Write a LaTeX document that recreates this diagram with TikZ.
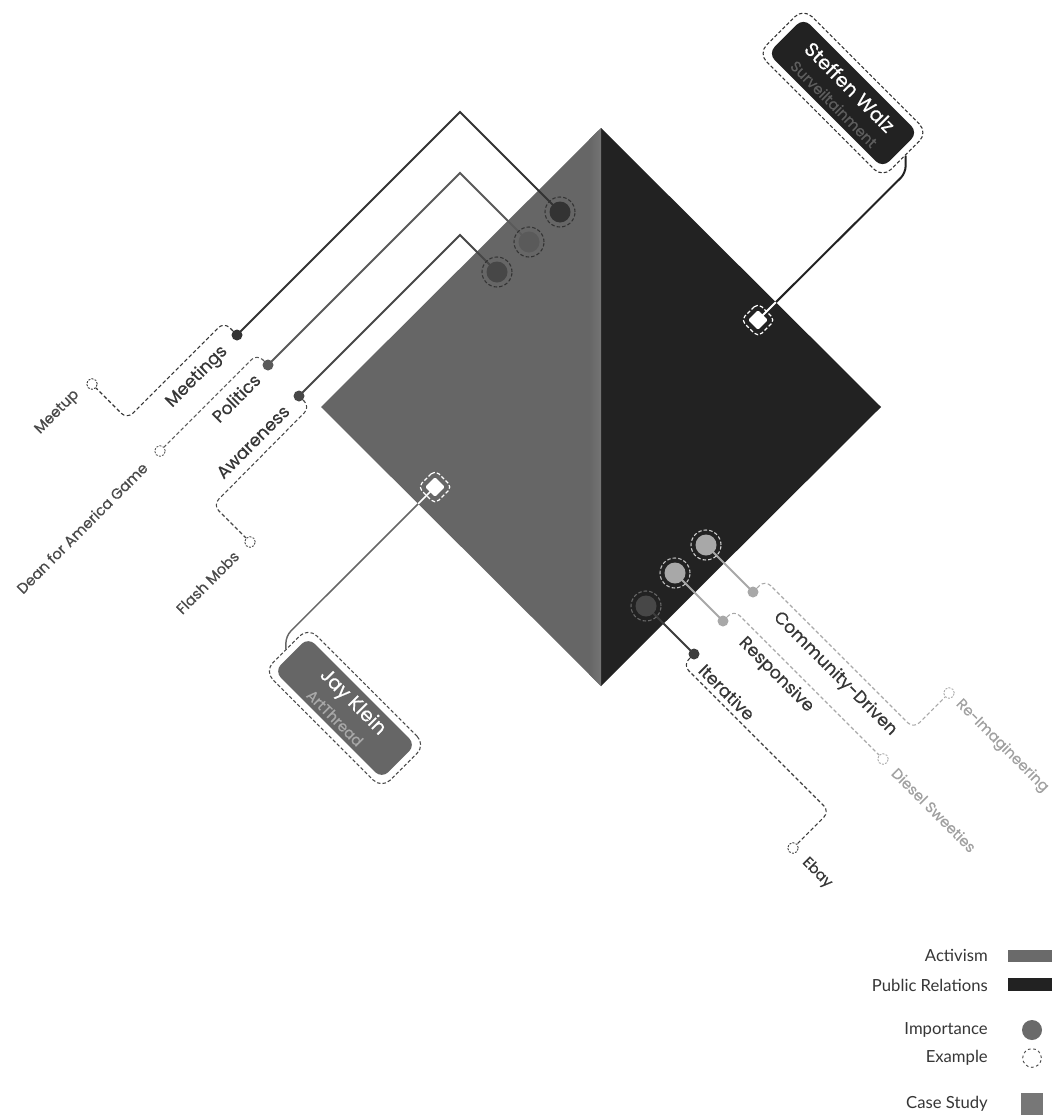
\documentclass[tikz,border=0pt]{standalone}
\usepackage{fontspec}
\setmainfont{Poppins}
\newfontfamily\labelfont{Poppins}[FakeBold=0.45]
\newfontfamily\legendfont{Lato}
\usetikzlibrary{calc}
\pgfdeclarelayer{base}
\pgfdeclarelayer{lines}
\pgfsetlayers{base,lines,main}
\definecolor{actgray}{HTML}{666666}
\definecolor{prblack}{HTML}{222222}
\definecolor{seamgray}{HTML}{747474}
\definecolor{cMeet}{HTML}{333333}
\definecolor{cPol}{HTML}{5A5A5A}
\definecolor{cAwa}{HTML}{474747}
\definecolor{cLight}{HTML}{A8A8A8}
\definecolor{cIter}{HTML}{3C3C3C}
\definecolor{cText}{HTML}{363636}
\definecolor{cTextSmall}{HTML}{4A4A4A}
\definecolor{cLightText}{HTML}{A0A0A0}
\definecolor{cSubDark}{HTML}{5E5E5E}
\definecolor{cSubLight}{HTML}{A8A8A8}
\definecolor{legRect}{HTML}{6A6A6A}
\definecolor{legSq}{HTML}{777777}
\begin{document}
\begin{tikzpicture}[x=0.75pt,y=-0.75pt,
  bigdot/.style={circle,inner sep=0pt,minimum size=15.75pt},
  smalldot/.style={circle,inner sep=0pt,minimum size=8.25pt},
  excirc/.style={circle,inner sep=0pt,minimum size=8pt,draw,fill=white,line width=0.65pt,dash pattern=on 1.5pt off 1pt},
  ring/.style={line width=0.8pt,dash pattern=on 2.6pt off 1.6pt},
  dpath/.style={line width=0.8pt,dash pattern=on 2.8pt off 1.8pt,rounded corners=6pt},
  sline/.style={line width=1.5pt},
  biglabel/.style={inner sep=0pt,font=\labelfont\fontsize{13}{15}\selectfont},
  smalllabel/.style={inner sep=0pt,font=\labelfont\fontsize{11}{13}\selectfont},
  caseout/.style={fill=white,line width=0.8pt,dash pattern=on 2.6pt off 1.6pt,rounded corners=9pt,rotate=-45,inner sep=0pt},
  casein/.style={rounded corners=7pt,rotate=-45,inner sep=0pt},
  casename/.style={inner sep=0pt,rotate=-45,text=white,font=\labelfont\fontsize{14.5}{16}\selectfont},
  casesub/.style={inner sep=0pt,rotate=-45,font=\labelfont\fontsize{11}{13}\selectfont},
  csq/.style={rectangle,rotate=45,fill=white,minimum size=10.5pt,inner sep=0pt,rounded corners=1.2pt},
  csqring/.style={rectangle,rotate=45,draw=white,minimum size=18pt,inner sep=0pt,rounded corners=4pt,line width=0.9pt,dash pattern=on 2.8pt off 1.6pt},
  conn/.style={rounded corners=5pt},
  legtext/.style={anchor=base east,inner sep=0pt,text=cText,font=\legendfont\fontsize{12.5}{14}\selectfont},
]
\useasboundingbox (0,0) rectangle (1055,1117);

% ---------- diamond ----------
\coordinate (dT) at (601,128);
\coordinate (dL) at (321,407);
\coordinate (dR) at (881,407);
\coordinate (dB) at (601,686);
\begin{pgfonlayer}{base}
\fill[white] (0,0) rectangle (1055,1117);
\fill[actgray] (dT) -- (dL) -- (dB) -- cycle;
\fill[prblack] (dT) -- (dR) -- (dB) -- cycle;
\begin{scope}
\clip (dT) -- (dL) -- (dB) -- cycle;
\shade[left color=actgray,right color=seamgray] (589,120) rectangle (601,700);
\end{scope}
\end{pgfonlayer}

% ---------- top-left: Activism attributes ----------
\node[bigdot,fill=cMeet] (mD) at (560,212) {};
\coordinate (mP) at (460,112);
\node[smalldot,fill=cMeet] (mS) at (237,335) {};
\coordinate (mV1) at (224,322);
\coordinate (mV2) at (127,419);
\node[excirc,draw=cMeet] (mE) at (92,384) {};

\node[bigdot,fill=cPol] (pD) at (529,242) {};
\coordinate (pP) at (460,173);
\node[smalldot,fill=cPol] (pS) at (268,365) {};
\coordinate (pV1) at (257,354);
\node[excirc,draw=cPol] (pE) at (160,451) {};

\node[bigdot,fill=cAwa] (aD) at (497,272) {};
\coordinate (aP) at (460,235);
\node[smalldot,fill=cAwa] (aS) at (299,396) {};
\coordinate (aV1) at (310,407);
\coordinate (aV2) at (213,505);
\node[excirc,draw=cAwa] (aE) at (250,542) {};

\draw[ring,cMeet] (mD.center) circle[radius=11.25pt];
\draw[ring,cMeet] (pD.center) circle[radius=11.25pt];
\draw[ring,cMeet] (aD.center) circle[radius=11.25pt];

% ---------- bottom-right: Public Relations attributes ----------
\node[bigdot,fill=cLight] (cD) at (706,545) {};
\node[smalldot,fill=cLight] (cS) at (753,592) {};
\coordinate (cV1) at (765,580);
\coordinate (cV2) at (913.5,728.5);
\node[excirc,draw=cLight] (cE) at (949,693) {};

\node[bigdot,fill=cLight] (rD) at (675,573) {};
\node[smalldot,fill=cLight] (rS) at (723,621) {};
\coordinate (rV1) at (734,610);
\node[excirc,draw=cLight] (rE) at (883,759) {};

\node[bigdot,fill=cAwa] (iD) at (646,606) {};
\node[smalldot,fill=cIter] (iS) at (694,654) {};
\coordinate (iV1) at (683,665);
\coordinate (iV2) at (829.5,811.5);
\node[excirc,draw=cIter] (iE) at (793,848) {};

\draw[ring,draw={rgb,255:red,210;green,210;blue,210}] (cD.center) circle[radius=11.25pt];
\draw[ring,draw={rgb,255:red,195;green,195;blue,195}] (rD.center) circle[radius=11.25pt];
\draw[ring,draw={rgb,255:red,105;green,105;blue,105}] (iD.center) circle[radius=11.25pt];

\begin{pgfonlayer}{lines}
\draw[sline,cMeet] (mD.center) -- (mP) -- (mS.center);
\draw[dpath,cMeet] (mS) -- (mV1) -- (mV2) -- (mE);
\draw[sline,cPol] (pD.center) -- (pP) -- (pS.center);
\draw[dpath,cPol] (pS) -- (pV1) -- (pE);
\draw[sline,cAwa] (aD.center) -- (aP) -- (aS.center);
\draw[dpath,cAwa] (aS) -- (aV1) -- (aV2) -- (aE);

\draw[sline,cLight] (cD.center) -- (cS.center);
\draw[dpath,cLight] (cS) -- (cV1) -- (cV2) -- (cE);
\draw[sline,cLight] (rD.center) -- (rS.center);
\draw[dpath,cLight] (rS) -- (rV1) -- (rE);
\draw[sline,cIter] (iD.center) -- (iS.center);
\draw[dpath,cIter] (iS) -- (iV1) -- (iV2) -- (iE);
\end{pgfonlayer}

% labels
\node[biglabel,rotate=45,text=cText] (lMeet) at (197,377) {Meetings};
\node[biglabel,rotate=45,text=cText] (lPol) at (236,398) {Politics};
\node[biglabel,rotate=45,text=cText] (lAwa) at (253,442) {Awareness};
\node[smalllabel,rotate=45,text=cTextSmall] (lMeetup) at (57.5,412.5) {Meetup};
\node[smalllabel,rotate=45,text=cTextSmall] (lDean) at (82,528) {Dean for America Game};
\node[smalllabel,rotate=45,text=cTextSmall] (lFlash) at (207.5,582.5) {Flash Mobs};

\node[biglabel,rotate=-45,text=cText] (lComm) at (835,674) {Community-Driven};
\node[biglabel,rotate=-45,text=cText] (lResp) at (776,675) {Responsive};
\node[biglabel,rotate=-45,text=cText] (lIter) at (727,692) {Iterative};
\node[smalllabel,rotate=-45,text=cLightText] (lReim) at (1002,746) {Re-Imagineering};
\node[smalllabel,rotate=-45,text=cLightText] (lDies) at (934,810) {Diesel Sweeties};
\node[smalllabel,rotate=-45,text=cText] (lEbay) at (817,873) {Ebay};

% ---------- case studies ----------
\node[caseout,draw=cMeet,minimum width=132pt,minimum height=48pt] (swO) at (843,93) {};
\node[casein,fill=prblack,minimum width=121.5pt,minimum height=37.5pt] (swI) at (swO.center) {};
\node[casename] (swN) at (850,87) {Steffen Walz};
\node[casesub,text=cSubDark] (swS) at (834,104) {Surveiltainment};
\node[csqring] (swR) at (758,320) {};
\node[csq] (swQ) at (758,320) {};
\coordinate (y173) at (0,173);
\coordinate (swB) at (swO.east |- y173);

\node[caseout,draw=cAwa,minimum width=124.5pt,minimum height=46.5pt] (jkO) at (345,708) {};
\node[casein,fill=actgray,minimum width=114pt,minimum height=36pt] (jkI) at (jkO.center) {};
\node[casename] (jkN) at (352.5,702.5) {Jay Klein};
\node[casesub,text=cSubLight] (jkS) at (335,718) {ArtThread};
\node[csqring] (jkR) at (435,487) {};
\node[csq] (jkQ) at (435,487) {};
\coordinate (y636) at (0,636);
\coordinate (jkB) at (jkO.west |- y636);

\begin{pgfonlayer}{lines}
\draw[conn,prblack,line width=1.5pt] (swO.east) -- (swB) -- (swQ.center);
\draw[conn,actgray,line width=1.1pt] (jkO.west) -- (jkB) -- (jkQ.center);
\begin{scope}
\clip (dT) -- (dL) -- (dB) -- (dR) -- cycle;
\draw[conn,white,line width=1.5pt] (swO.east) -- (swB) -- (swQ.center);
\draw[conn,white,line width=1.1pt] (jkO.west) -- (jkB) -- (jkQ.center);
\end{scope}
\end{pgfonlayer}

% ---------- legend ----------
\node[legtext] (tAct) at (988,961.7) {Activism};
\node[legtext] (tPR) at (988,991) {Public Relations};
\node[legtext] (tImp) at (988,1034) {Importance};
\node[legtext] (tEx) at (988,1062.5) {Example};
\node[legtext] (tCS) at (988,1108.3) {Case Study};
\node[fill=legRect,inner sep=0pt,minimum width=33pt,minimum height=9pt] (kAct) at (1030,956) {};
\node[fill=prblack,inner sep=0pt,minimum width=33pt,minimum height=9.75pt] (kPR) at (1030,984.5) {};
\node[circle,fill=legRect,inner sep=0pt,minimum size=15pt] (kImp) at (1032,1030) {};
\node[circle,draw=cTextSmall,inner sep=0pt,minimum size=14pt,line width=0.7pt,dash pattern=on 2pt off 2pt] (kEx) at (1032,1058) {};
\node[fill=legSq,inner sep=0pt,minimum size=16.5pt] (kCS) at (1031.5,1104) {};
\end{tikzpicture}
\end{document}
